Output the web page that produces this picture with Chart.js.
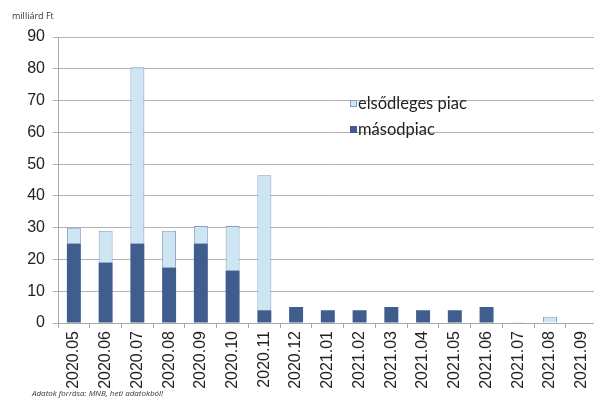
<!DOCTYPE html>
<html>
<head>
<meta charset="utf-8">
<script src="https://cdn.jsdelivr.net/npm/chart.js@4"></script>
<style>
  html, body { margin: 0; padding: 0; background: #fff; overflow: hidden; }
  #wrap { position: relative; width: 594px; height: 398px; overflow: hidden; }
  #box { position: absolute; left: 0; top: 0; width: 604px; height: 398px; }
  .unit { position: absolute; left: 12px; top: 9px; font: 9px "Open Sans", sans-serif; color: #333; }
  .src { position: absolute; left: 32px; top: 387px; font: italic 8px "Open Sans", sans-serif; color: #333; }
</style>
</head>
<body>
<div id="wrap">
  <div id="box"><canvas id="c" width="604" height="398"></canvas></div>
  <div class="unit">milliárd Ft</div>
  <div class="src">Adatok forrása: MNB, heti adatokból!</div>
</div>
<script>
const categories = ["2020.05","2020.06","2020.07","2020.08","2020.09","2020.10","2020.11","2020.12","2021.01","2021.02","2021.03","2021.04","2021.05","2021.06","2021.07","2021.08","2021.09"];
const masodpiac  = [25, 19, 25, 17.5, 25, 16.5, 4, 5, 4, 4, 5, 4, 4, 5, 0, 0, 0];
const elsodleges = [5, 10, 55.5, 11.5, 5.5, 14, 42.5, 0, 0, 0, 0, 0, 0, 0, 0.3, 2, 0];
const seriesNames = ["elsődleges piac", "másodpiac"];
const yTicks = [0, 10, 20, 30, 40, 50, 60, 70, 80, 90];

const lightFill = "#cde6f2", lightBorder = "#7f9ec4";
const darkFill = "#3f5e8e";

const legendPlugin = {
  id: "customLegend",
  afterDraw(chart) {
    const ctx = chart.ctx;
    ctx.save();
    ctx.font = "16.5px Lato, sans-serif";
    ctx.textBaseline = "middle";
    ctx.fillStyle = lightFill; ctx.strokeStyle = lightBorder; ctx.lineWidth = 1;
    ctx.fillRect(350.5, 100.5, 6, 6); ctx.strokeRect(350.5, 100.5, 6, 6);
    ctx.fillStyle = "#222"; ctx.fillText(seriesNames[0], 358, 104);
    ctx.fillStyle = darkFill;
    ctx.fillRect(350, 126, 7, 7);
    ctx.fillStyle = "#222"; ctx.fillText(seriesNames[1], 358, 130);
    ctx.restore();
  }
};

new Chart(document.getElementById("c"), {
  type: "bar",
  data: {
    labels: categories,
    datasets: [
      { label: seriesNames[1], data: masodpiac, backgroundColor: darkFill, borderColor: darkFill, borderWidth: 0, barPercentage: 0.44, categoryPercentage: 1.0, stack: "s" },
      { label: seriesNames[0], data: elsodleges, backgroundColor: lightFill, borderColor: lightBorder, borderWidth: 1, barPercentage: 0.44, categoryPercentage: 1.0, stack: "s" }
    ]
  },
  options: {
    responsive: false,
    animation: false,
    events: [],
    layout: { padding: { left: 0, right: 0, top: 37, bottom: 0 } },
    plugins: { legend: { display: false }, tooltip: { enabled: false } },
    scales: {
      x: {
        stacked: true,
        afterFit(s) { s.height = 75; },
        border: { color: "#a8a8a8" },
        grid: { drawOnChartArea: false, drawTicks: true, tickLength: 5, color: "#a8a8a8", offset: true },
        ticks: { autoSkip: false, maxRotation: 90, minRotation: 90, color: "#222", font: { family: "Liberation Sans", size: 16 }, padding: 3 }
      },
      y: {
        stacked: true,
        min: 0, max: 90,
        afterFit(s) { s.width = 58; },
        afterBuildTicks(s) { s.ticks = yTicks.map(v => ({ value: v })); },
        border: { color: "#a8a8a8" },
        grid: { color: "#b4b4b4", tickLength: 5, lineWidth: 1 },
        ticks: { color: "#222", font: { family: "Liberation Sans", size: 16 }, padding: 8 }
      }
    }
  },
  plugins: [legendPlugin]
});
</script>
</body>
</html>
